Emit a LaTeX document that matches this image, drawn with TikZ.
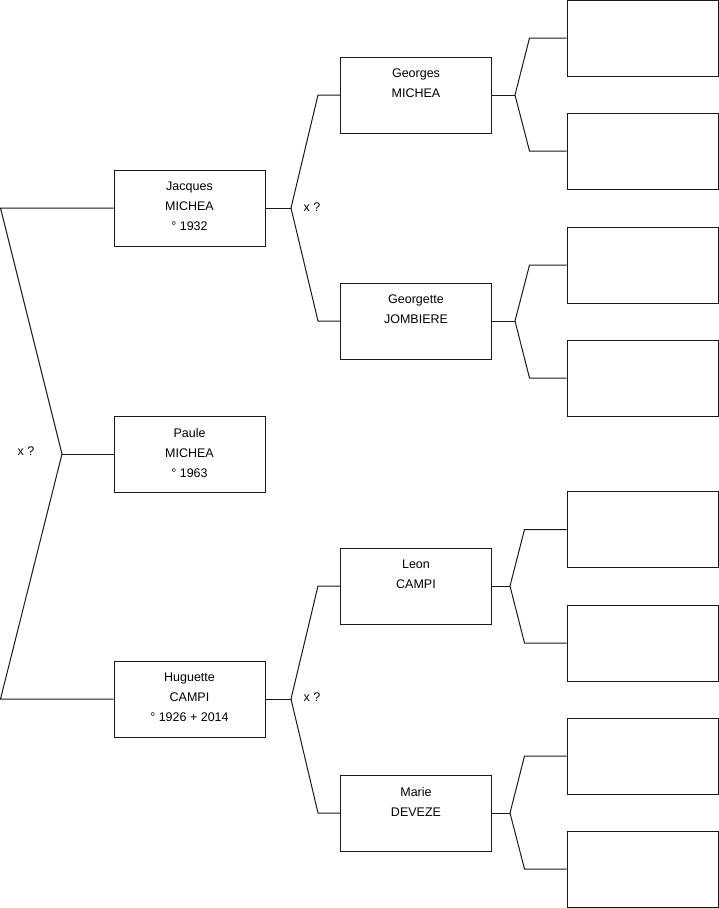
\documentclass[tikz,border=0pt]{standalone}
\usepackage{fontspec}
\setmainfont{Liberation Sans}
\usetikzlibrary{calc}
\tikzset{
  % personer
  pbox/.style={draw=black!90,line width=1pt,fill=white,inner sep=0pt,
               minimum width=151pt,minimum height=76pt},
  pline/.style={draw=black!90,line width=1pt},
  xq/.style={font=\fontsize{12.5}{14}\selectfont,inner sep=0pt},
}
\newcommand{\pers}[1]{\parbox[t][52pt][t]{145pt}{\fontsize{12.5}{20}\selectfont\centering #1\par}}

\begin{document}
\begin{tikzpicture}[x=1pt,y=-1pt]
  \useasboundingbox (0,0) rectangle (719,908);
  % generation 1
  \node[pbox] (jac) at (189.5,208) {\pers{Jacques\\MICHEA\\° 1932}};
  \node[pbox] (pau) at (189.5,454) {\pers{Paule\\MICHEA\\° 1963}};
  \node[pbox] (hug) at (189.5,699) {\pers{Huguette\\CAMPI\\° 1926 + 2014}};
  % generation 2
  \node[pbox] (geo) at (416,95) {\pers{Georges\\MICHEA}};
  \node[pbox] (gte) at (416,321) {\pers{Georgette\\JOMBIERE}};
  \node[pbox] (leo) at (416,586) {\pers{Leon\\CAMPI}};
  \node[pbox] (mar) at (416,813) {\pers{Marie\\DEVEZE}};
  % generation 3
  \node[pbox] (g1) at (642.5,38) {};
  \node[pbox] (g2) at (642.5,151) {};
  \node[pbox] (g3) at (642.5,265) {};
  \node[pbox] (g4) at (642.5,378) {};
  \node[pbox] (g5) at (642.5,529.5) {};
  \node[pbox] (g6) at (642.5,643) {};
  \node[pbox] (g7) at (642.5,756) {};
  \node[pbox] (g8) at (642.5,869) {};
  % gafflar
  \coordinate (ptop) at (0.5,208);
  \coordinate (pbot) at (0.5,699);
  \coordinate (pfork) at (62,454);
  \coordinate (jfork) at (291,208);
  \coordinate (hfork) at (291,699);
  \coordinate (gfork) at (515,95);
  \coordinate (tfork) at (515,321);
  \coordinate (lfork) at (510,586);
  \coordinate (mfork) at (510,813);
  \draw[pline] (jac.west) -- (ptop) -- (pfork) -- (pbot) -- (hug.west);
  \draw[pline] (pfork) -- (pau.west);
  \node[xq] (x1) at (26,451) {x ?};
  \draw[pline] (jac.east) -- (jfork);
  \draw[pline] (geo.west) -- ++(-22,0) -- (jfork) -- ($(gte.west)+(-22,0)$) -- (gte.west);
  \node[xq] (x2) at (312,207) {x ?};
  \draw[pline] (hug.east) -- (hfork);
  \draw[pline] (leo.west) -- ++(-22,0) -- (hfork) -- ($(mar.west)+(-22,0)$) -- (mar.west);
  \node[xq] (x3) at (312,697) {x ?};
  \draw[pline] (geo.east) -- (gfork);
  \draw[pline] (g1.west) -- ++(-37,0) -- (gfork) -- ($(g2.west)+(-37,0)$) -- (g2.west);
  \draw[pline] (gte.east) -- (tfork);
  \draw[pline] (g3.west) -- ++(-37,0) -- (tfork) -- ($(g4.west)+(-37,0)$) -- (g4.west);
  \draw[pline] (leo.east) -- (lfork);
  \draw[pline] (g5.west) -- ++(-42,0) -- (lfork) -- ($(g6.west)+(-42,0)$) -- (g6.west);
  \draw[pline] (mar.east) -- (mfork);
  \draw[pline] (g7.west) -- ++(-42,0) -- (mfork) -- ($(g8.west)+(-42,0)$) -- (g8.west);
\end{tikzpicture}
\end{document}
